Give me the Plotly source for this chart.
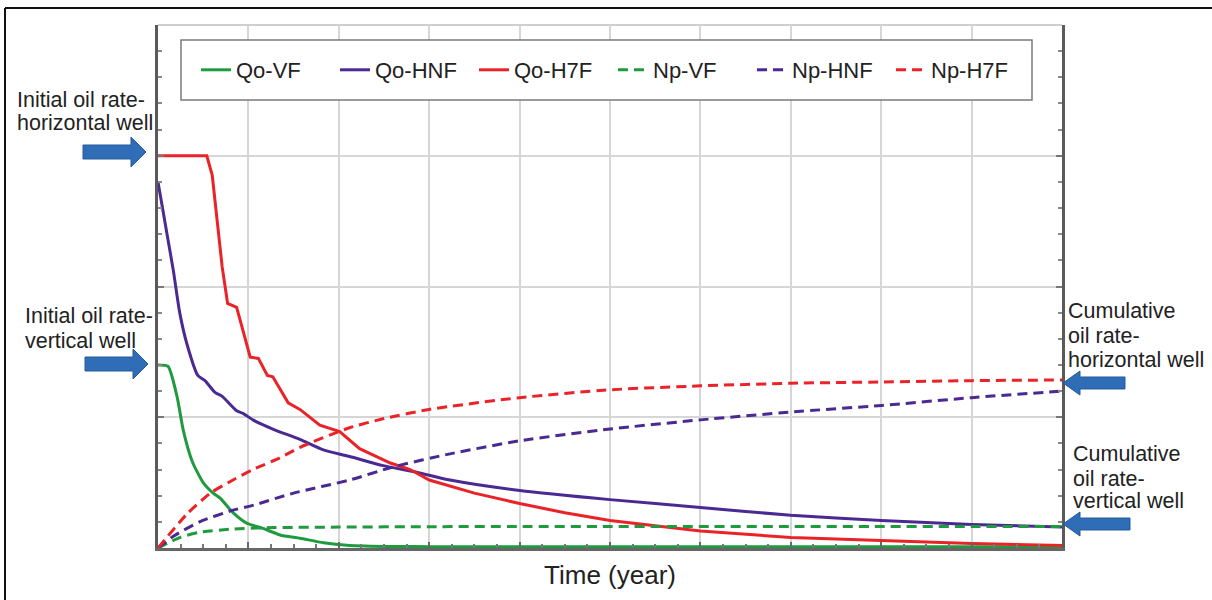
import plotly.graph_objects as go

# ---------------- data ----------------
t_qo_vf = [0, 0.11, 0.21, 0.28, 0.38, 0.50, 0.61, 0.69, 0.83, 0.98, 1.16, 1.35, 1.57, 1.83, 2.12, 2.6, 3.0, 4.0, 5.0, 6.0, 7.0, 8.0, 9.0, 10.0]
qo_vf = [1.40, 1.39, 1.16, 0.90, 0.66, 0.50, 0.42, 0.38, 0.27, 0.19, 0.15, 0.10, 0.075, 0.04, 0.02, 0.012, 0.01, 0.01, 0.01, 0.01, 0.01, 0.01, 0.01, 0.01]

t_qo_hnf = [0, 0.05, 0.10, 0.17, 0.24, 0.32, 0.44, 0.52, 0.63, 0.71, 0.87, 0.94, 1.05, 1.27, 1.57, 1.83, 2.12, 2.49, 2.86, 3.23, 4.0, 5.0, 6.0, 7.0, 8.0, 9.0, 10.0]
qo_hnf = [2.80, 2.60, 2.40, 2.12, 1.80, 1.56, 1.32, 1.28, 1.19, 1.16, 1.05, 1.03, 0.98, 0.91, 0.83, 0.75, 0.70, 0.63, 0.58, 0.52, 0.44, 0.37, 0.31, 0.25, 0.21, 0.18, 0.16]

t_qo_h7f = [0, 0.54, 0.60, 0.66, 0.71, 0.77, 0.87, 1.02, 1.11, 1.21, 1.27, 1.44, 1.57, 1.79, 2.01, 2.23, 2.57, 2.79, 3.0, 3.5, 4.0, 4.5, 5.0, 5.5, 6.0, 7.0, 8.0, 9.0, 10.0]
qo_h7f = [3.00, 3.00, 2.85, 2.46, 2.15, 1.87, 1.84, 1.46, 1.45, 1.32, 1.31, 1.11, 1.06, 0.94, 0.89, 0.76, 0.65, 0.60, 0.52, 0.42, 0.34, 0.27, 0.21, 0.17, 0.13, 0.08, 0.055, 0.035, 0.02]

t_np_vf = [0, 0.24, 0.46, 0.83, 1.2, 2.0, 3.0, 4.0, 5.0, 6.0, 7.0, 8.0, 9.0, 10.0]
np_vf = [0, 0.08, 0.12, 0.145, 0.155, 0.16, 0.163, 0.165, 0.165, 0.165, 0.165, 0.165, 0.165, 0.165]

t_np_hnf = [0, 0.17, 0.46, 0.83, 1.02, 1.5, 2.12, 2.6, 3.23, 4.0, 5.0, 6.0, 7.0, 8.0, 9.0, 10.0]
np_hnf = [0, 0.09, 0.20, 0.29, 0.32, 0.42, 0.52, 0.62, 0.72, 0.82, 0.91, 0.98, 1.04, 1.09, 1.15, 1.20]

t_np_h7f = [0, 0.32, 0.58, 0.83, 1.05, 1.35, 1.57, 2.12, 2.5, 3.0, 4.0, 5.0, 6.0, 7.0, 8.0, 9.0, 10.0]
np_h7f = [0, 0.26, 0.42, 0.52, 0.60, 0.69, 0.77, 0.92, 0.99, 1.06, 1.15, 1.21, 1.24, 1.26, 1.27, 1.28, 1.285]

series_names = ["Qo-VF", "Qo-HNF", "Qo-H7F", "Np-VF", "Np-HNF", "Np-H7F"]

GREEN = "#1f9a3f"
PURPLE = "#4a2a92"
RED = "#ea2328"

# ---------------- layout helpers (pixel -> paper) ----------------
W, H = 1212, 600
L, R, T, B = 158, 150, 25, 52
PW, PH = W - L - R, H - T - B


def px(x):
    return (x - L) / PW


def py(y):
    return (H - B - y) / PH


fig = go.Figure()

DASH = "10px,6px"
specs = [
    (t_qo_vf, qo_vf, GREEN, "solid", "spline"),
    (t_qo_hnf, qo_hnf, PURPLE, "solid", "spline"),
    (t_qo_h7f, qo_h7f, RED, "solid", "linear"),
    (t_np_vf, np_vf, GREEN, DASH, "spline"),
    (t_np_hnf, np_hnf, PURPLE, DASH, "spline"),
    (t_np_h7f, np_h7f, RED, DASH, "spline"),
]
for name, (tx, vy, col, dash, shp) in zip(series_names, specs):
    line = dict(color=col, width=3, dash=dash, shape=shp)
    if shp == "spline":
        line["smoothing"] = 0.6
    fig.add_trace(go.Scatter(x=tx, y=vy, mode="lines", name=name, line=line))

shapes = []
# outer border (top and left only)
shapes.append(dict(type="line", xref="paper", yref="paper", x0=px(5), x1=px(1212), y0=py(8), y1=py(8),
                   line=dict(color="#111", width=2)))
shapes.append(dict(type="line", xref="paper", yref="paper", x0=px(5), x1=px(5), y0=py(8), y1=py(600),
                   line=dict(color="#111", width=2)))
# top frame line (light gray)
shapes.append(dict(type="line", xref="paper", yref="paper", x0=0, x1=1, y0=1, y1=1,
                   line=dict(color="#cfcfcf", width=2), layer="below"))
# legend box
shapes.append(dict(type="rect", xref="paper", yref="paper", x0=px(181), x1=px(1032), y0=py(40), y1=py(100),
                   line=dict(color="#7a7a7a", width=1.5), fillcolor="white", layer="above"))


def arrow_right(x0, x1, yc, head=15, shaft=7, hh=15):
    xs = [x0, x1 - head, x1 - head, x1, x1 - head, x1 - head, x0]
    ys = [yc - shaft, yc - shaft, yc - hh, yc, yc + hh, yc + shaft, yc + shaft]
    return xs, ys


def arrow_left(x0, x1, yc, head=17, shaft=6, hh=12):
    # tip at x0, tail at x1
    xs = [x1, x0 + head, x0 + head, x0, x0 + head, x0 + head, x1]
    ys = [yc - shaft, yc - shaft, yc - hh, yc, yc + hh, yc + shaft, yc + shaft]
    return xs, ys


def path_from(xs, ys):
    pts = [f"{px(a):.5f},{py(b):.5f}" for a, b in zip(xs, ys)]
    return "M" + " L".join(pts) + " Z"


for xs, ys in [arrow_right(83, 146, 152), arrow_right(85, 148, 364),
               arrow_left(1063, 1125, 383), arrow_left(1063, 1130, 524)]:
    shapes.append(dict(type="path", xref="paper", yref="paper", path=path_from(xs, ys),
                       fillcolor="#2f6db6", line=dict(color="#245a9c", width=1)))

annotations = []
text_groups = [
    (17, ["Initial oil rate-", "horizontal well"], [99, 122]),
    (25, ["Initial oil rate-", "vertical well"], [315, 340]),
    (1068, ["Cumulative", "oil rate-", "horizontal well"], [310, 335, 359]),
    (1073, ["Cumulative", "oil rate-", "vertical well"], [453, 478, 500]),
]
for x0, lines, ys in text_groups:
    for txt, yc in zip(lines, ys):
        annotations.append(dict(text=txt, xref="paper", yref="paper", x=px(x0 - 2), y=py(yc + 1),
                                xanchor="left", yanchor="middle", showarrow=False,
                                font=dict(size=21.5, color="#222")))

fig.update_layout(
    width=W, height=H, autosize=False,
    margin=dict(l=L, r=R, t=T, b=B, pad=0),
    paper_bgcolor="white", plot_bgcolor="white",
    font=dict(family="Liberation Sans, Arial, sans-serif", color="#222"),
    shapes=shapes, annotations=annotations,
    showlegend=True,
    legend=dict(orientation="h", x=px(196), xanchor="left", y=py(70), yanchor="middle",
                bgcolor="rgba(0,0,0,0)", borderwidth=0, font=dict(size=22, color="#222"),
                entrywidth=94, entrywidthmode="pixels", itemwidth=30),
    xaxis=dict(range=[0, 10], dtick=1, showticklabels=False, showgrid=True, gridcolor="#d6d6d6", gridwidth=1.5,
               zeroline=False, showline=True, linecolor="#666", linewidth=3,
               ticks="inside", ticklen=6, tickcolor="#666", tickwidth=1.5,
               minor=dict(ticks="inside", ticklen=4, dtick=0.25, tickcolor="#777", showgrid=False),
               title=dict(text="Time (year)", font=dict(size=26, color="#222"), standoff=16),
               automargin=False, fixedrange=True),
    yaxis=dict(range=[0, 4], dtick=1, showticklabels=False, showgrid=True, gridcolor="#d6d6d6", gridwidth=1.5,
               zeroline=False, showline=True, linecolor="#5a5a5a", linewidth=2.5, mirror="ticks",
               ticks="inside", ticklen=6, tickcolor="#777", tickwidth=1.5,
               minor=dict(ticks="inside", ticklen=4, dtick=0.2, tickcolor="#888", showgrid=False),
               automargin=False, fixedrange=True),
)

fig.write_html("out.html")
